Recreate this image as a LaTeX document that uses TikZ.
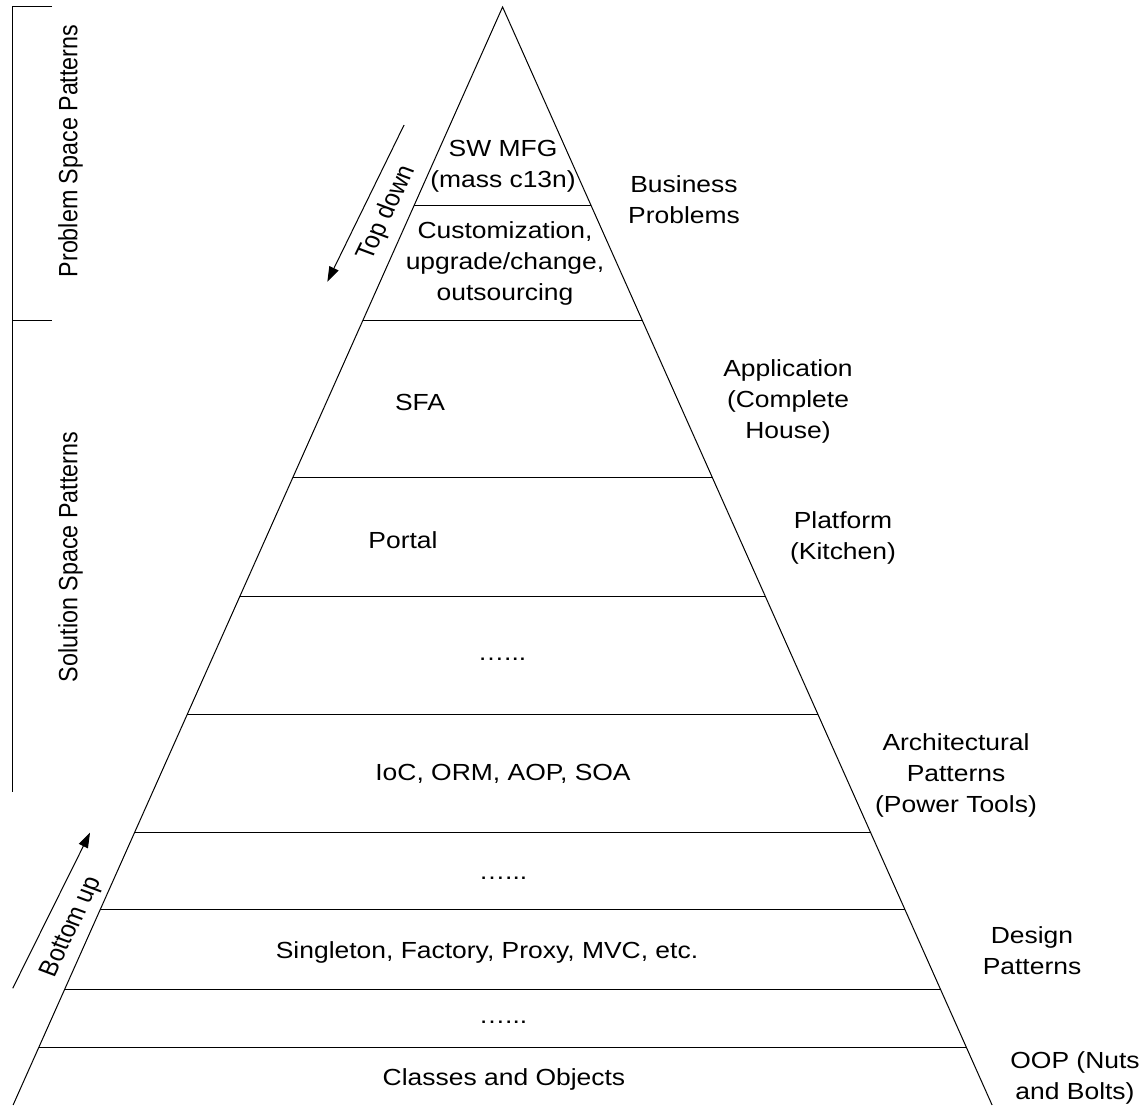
\documentclass[tikz,border=0pt]{standalone}
\usepackage{fontspec}
\setmainfont{Liberation Sans}
\usetikzlibrary{arrows.meta}

\tikzset{
  label text/.style={font=\fontsize{23.3}{31}\selectfont, align=center, inner sep=0pt, transform shape},
  down tip/.style={-{Triangle[length=15pt,width=10pt]}}
}

\begin{document}
\begin{tikzpicture}[x=0.88106pt, y=-1pt, xscale=1.135, line width=1pt]
            \useasboundingbox (0,0) rectangle (1142,1105);
            \coordinate (top) at (502.5,7);
            \coordinate (left) at (13.1,1105);
            \coordinate (right) at (991.9,1105);
            \draw (left) -- (top) -- (right);
            \foreach \y in {205,320.5,477,596,714,832,909,989,1047}
                \draw ({502.5-0.4457*(\y-7)},\y) -- ({502.5+0.4457*(\y-7)},\y);
            % layers
            \node [label text] (mfg) at (503,166.5) {SW MFG\\(mass c13n)};
            \node [label text] (custom) at (505,263) {Customization,\\upgrade/change,\\outsourcing};
            \node [label text, anchor=base] (sfa) at (420,410) {SFA};
            \node [label text, anchor=base] (portal) at (403,548) {Portal};
            \node [label text, anchor=base] (dotsA) at (502,660) {…...};
            \node [label text, anchor=base] (ioc) at (503,780) {IoC, ORM, AOP, SOA};
            \node [label text, anchor=base] (dotsB) at (503,879) {…...};
            \node [label text, anchor=base] (singleton) at (487,958) {Singleton, Factory, Proxy, MVC, etc.};
            \node [label text, anchor=base] (dotsC) at (503,1023) {…...};
            \node [label text, anchor=base] (classes) at (504,1085) {Classes and Objects};
            % right side
            \node [label text] (business) at (684,200) {Business\\Problems};
            \node [label text] (application) at (788,401.5) {Application\\(Complete\\House)};
            \node [label text] (platform) at (843,537.5) {Platform\\(Kitchen)};
            \node [label text] (architectural) at (956,775) {Architectural\\Patterns\\(Power Tools)};
            \node [label text] (design) at (1032,951) {Design\\Patterns};
            \node [label text] (oop) at (1075,1077.5) {OOP (Nuts\\and Bolts)};
            % left side
            \draw (52,7) -- (12.5,7) -- (12.5,792);
            \draw (12.5,320.5) -- (52,320.5);
            \node [label text, rotate=90] (problem) at (70.5,151) {Problem Space Patterns};
            \node [label text, rotate=90] (solution) at (70.5,557) {Solution Space Patterns};
            \coordinate (td start) at (404,125);
            \coordinate (td end) at (327.3,281.7);
            \draw [down tip] (td start) -- (td end);
            \node [label text, rotate=67] (topdown) at (387,213) {Top down};
            \coordinate (bu start) at (12.7,988.3);
            \coordinate (bu end) at (90,832.7);
            \draw [down tip] (bu start) -- (bu end);
            \node [label text, rotate=67] (bottomup) at (72,927) {Bottom up};
        \end{tikzpicture}
\end{document}
